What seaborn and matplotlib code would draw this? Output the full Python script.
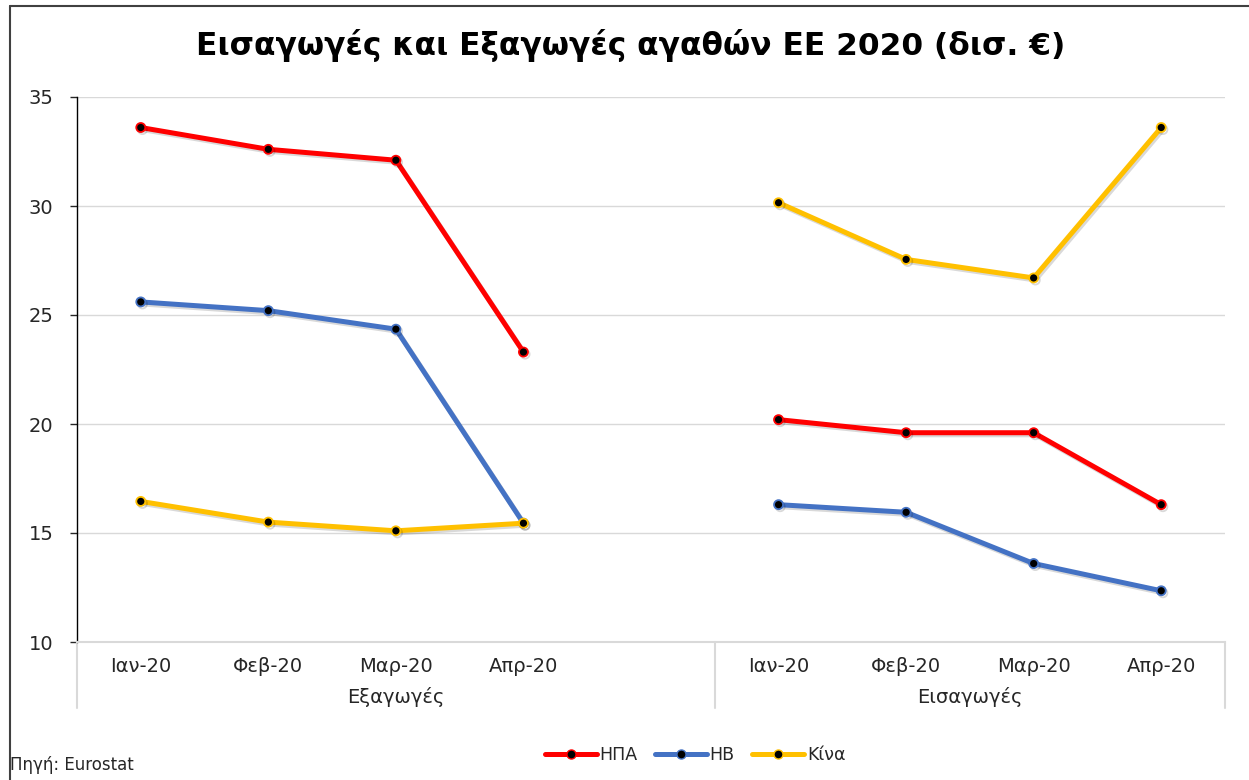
import matplotlib
matplotlib.use("Agg")
import matplotlib.pyplot as plt
import matplotlib.patheffects as pe
from matplotlib.lines import Line2D
import seaborn as sns
import pandas as pd

months = ["Ιαν-20", "Φεβ-20", "Μαρ-20", "Απρ-20"]
groups = ["Εξαγωγές", "Εισαγωγές"]
countries = ["ΗΠΑ", "ΗΒ", "Κίνα"]
colors = ["#FF0000", "#4472C4", "#FFC000"]

exports_usa = [33.6, 32.6, 32.1, 23.3]
exports_uk = [25.6, 25.2, 24.35, 15.45]
exports_china = [16.45, 15.5, 15.1, 15.45]
imports_usa = [20.2, 19.6, 19.6, 16.3]
imports_uk = [16.3, 15.95, 13.6, 12.35]
imports_china = [30.15, 27.55, 26.7, 33.6]

values = {
    "Εξαγωγές": [exports_usa, exports_uk, exports_china],
    "Εισαγωγές": [imports_usa, imports_uk, imports_china],
}

# category slots: 4 export months + blank slot, then 4 import months
group_offset = {"Εξαγωγές": 0, "Εισαγωγές": 5}

rows = []
for g in groups:
    for ci, c in enumerate(countries):
        for mi, m in enumerate(months):
            rows.append({"group": g, "country": c, "month": m,
                         "pos": group_offset[g] + mi, "value": values[g][ci][mi]})
df = pd.DataFrame(rows)

sns.set_theme(style="white")
plt.rcParams["font.family"] = ["DejaVu Sans"]

TXT = "#262626"
FS = 14

fig = plt.figure(figsize=(12.49, 7.8), dpi=100)
ax = fig.add_axes([77 / 1249, 1 - 642 / 780, (1225 - 77) / 1249, (642 - 97) / 780])

shadow = [pe.SimpleLineShadow(offset=(1.2, -1.5), alpha=0.15, shadow_color="black"), pe.Normal()]
palette = dict(zip(countries, colors))
for gi, g in enumerate(groups):
    sub = df[df["group"] == g]
    sns.lineplot(data=sub, x="pos", y="value", hue="country", hue_order=countries,
                 palette=palette, linewidth=3.6, marker="o", markersize=6.5,
                 markerfacecolor="black", markeredgewidth=1.3,
                 legend=(gi == 0), ax=ax, path_effects=shadow, sort=False)

for line in ax.lines:
    line.set_markeredgecolor(line.get_color())

ax.set_xlim(-0.5, 8.5)
ax.set_ylim(10, 35)
ax.set_yticks([10, 15, 20, 25, 30, 35])
ax.yaxis.grid(True, color="#D9D9D9", linewidth=1)
ax.set_xlabel("")
ax.set_ylabel("")

ticks_pos = [group_offset[g] + i for g in groups for i in range(len(months))]
ax.set_xticks(ticks_pos)
ax.set_xticklabels(months * 2)
ax.tick_params(axis="x", length=0, pad=11, labelsize=FS, colors=TXT)
ax.tick_params(axis="y", length=5, width=1, direction="out", left=True, pad=12,
               labelsize=FS, colors=TXT)

for s in ["top", "right"]:
    ax.spines[s].set_visible(False)
ax.spines["left"].set_color("black")
ax.spines["left"].set_linewidth(1)
ax.spines["bottom"].set_color("#D9D9D9")
ax.spines["bottom"].set_linewidth(1.5)

# multi-level category separators
trans = ax.get_xaxis_transform()
ybot = -(708 - 642) / 545
for xs in [-0.5, 4.5, 8.5]:
    ax.add_line(Line2D([xs, xs], [0, ybot], transform=trans, color="#D9D9D9",
                       linewidth=1.5, clip_on=False))
ax.text(2.0, -(697 - 642) / 545, "Εξαγωγές", transform=trans, ha="center", va="center",
        fontsize=FS, color=TXT)
ax.text(6.5, -(697 - 642) / 545, "Εισαγωγές", transform=trans, ha="center", va="center",
        fontsize=FS, color=TXT)

# legend
leg = ax.get_legend()
leg.remove()
new_handles = [Line2D([0], [0], color=c, linewidth=3.6, marker="o",
                      markerfacecolor="black", markeredgecolor=c, markersize=6.5)
               for c in colors]
fig.legend(new_handles, countries, loc="center", bbox_to_anchor=(695 / 1249, 1 - 755 / 780),
           ncol=3, frameon=False, fontsize=12.5, handlelength=3.0, handletextpad=0.15,
           columnspacing=1.0)

fig.text(631 / 1249, 1 - 45 / 780, "Εισαγωγές και Εξαγωγές αγαθών ΕΕ 2020 (δισ. €)",
         ha="center", va="center", fontsize=22.5, fontweight="bold", color="black")
fig.text(10 / 1249, 1 - 765 / 780, "Πηγή: Eurostat", ha="left", va="center",
         fontsize=12, color=TXT)

# outer frame (left and top edges visible in reference)
fig.add_artist(Line2D([10 / 1249, 10 / 1249], [0, 1 - 6 / 780], transform=fig.transFigure,
                      color="#404040", linewidth=1.5))
fig.add_artist(Line2D([10 / 1249, 1], [1 - 6 / 780, 1 - 6 / 780], transform=fig.transFigure,
                      color="#404040", linewidth=1.5))

fig.savefig("out.png", dpi=100, facecolor="white")
